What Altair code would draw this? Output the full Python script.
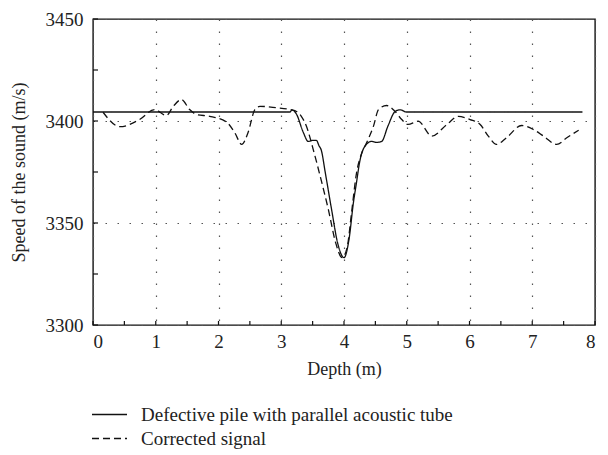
import altair as alt
import pandas as pd

# --- data ---
solid_x = [0.0, 3.14, 3.17, 3.24, 3.35, 3.43, 3.50, 3.56, 3.60, 3.64, 3.70, 3.80, 3.90, 4.00,
           4.08, 4.15, 4.20, 4.25, 4.33, 4.44, 4.52, 4.60, 4.70, 4.81, 4.89, 5.00, 7.80]
solid_y = [3404.4, 3404.4, 3405.4, 3403.5, 3394.5, 3390.0, 3390.5, 3390.5, 3388.0, 3385.5, 3375.0,
           3357.0, 3340.0, 3333.0, 3342.0, 3360.0, 3370.0, 3380.0, 3387.5, 3390.0, 3389.5, 3390.0,
           3397.5, 3404.5, 3405.5, 3404.4, 3404.4]

dash_x = [0.16, 0.43, 0.74, 0.98, 1.17, 1.28, 1.41, 1.54, 1.65, 1.86, 2.13, 2.26, 2.37, 2.47, 2.58,
          2.66, 2.92, 3.14, 3.25, 3.32, 3.40, 3.51, 3.62, 3.75, 3.87, 3.97, 4.05, 4.12, 4.20, 4.28,
          4.36, 4.47, 4.55, 4.68, 4.81, 4.92, 5.02, 5.18, 5.40, 5.64, 5.82, 6.01, 6.17, 6.30, 6.43,
          6.59, 6.83, 7.02, 7.18, 7.39, 7.55, 7.74]
dash_y = [3404.3, 3397.2, 3400.7, 3405.6, 3402.7, 3407.2, 3410.5, 3405.6, 3403.2, 3402.3, 3399.4,
          3394.2, 3388.5, 3394.2, 3405.6, 3407.2, 3406.5, 3405.6, 3404.5, 3402.3, 3397.5, 3386.0,
          3373.0, 3356.7, 3340.0, 3333.0, 3338.0, 3355.0, 3374.6, 3384.0, 3389.3, 3397.5, 3405.6,
          3407.6, 3404.8, 3400.7, 3398.3, 3399.9, 3392.6, 3398.3, 3402.3, 3400.7, 3398.3, 3392.6,
          3388.5, 3391.8, 3397.8, 3395.8, 3392.6, 3388.5, 3391.8, 3395.5]

series_names = ["Defective pile with parallel acoustic tube", "Corrected signal"]

x_major = [0, 1, 2, 3, 4, 5, 6, 7, 8]
x_minor = [0, 0.5, 1, 1.5, 2, 2.5, 3, 3.5, 4, 4.5, 5, 5.5, 6, 6.5, 7, 7.5, 8]
y_major = [3300, 3350, 3400, 3450]
y_minor = [3300, 3325, 3350, 3375, 3400, 3425, 3450]

W, H = 502, 306
FONT = "Liberation Serif"

df = pd.concat([
    pd.DataFrame({"x": solid_x, "y": solid_y, "s": series_names[0], "o": range(len(solid_x))}),
    pd.DataFrame({"x": dash_x, "y": dash_y, "s": series_names[1], "o": range(len(dash_x))}),
])

xscale = alt.Scale(domain=[0, 8], nice=False, zero=False)
yscale = alt.Scale(domain=[3300, 3450], nice=False, zero=False)

lines = alt.Chart(df).mark_line(interpolate="monotone", strokeWidth=1.3, color="#111").encode(
    x=alt.X("x:Q", scale=xscale,
            axis=alt.Axis(values=x_major, title="Depth (m)", grid=True, ticks=False, domain=False,
                          labelPadding=7, titlePadding=9, format="d")),
    y=alt.Y("y:Q", scale=yscale,
            axis=alt.Axis(values=y_major, title="Speed of the sound (m/s)", grid=True, ticks=False,
                          domain=False, labelPadding=10, titlePadding=17, format="d")),
    strokeDash=alt.StrokeDash("s:N",
        scale=alt.Scale(domain=series_names, range=[[1, 0], [7, 4]]),
        legend=alt.Legend(title=None, orient="none", legendX=-2, legendY=386,
                          symbolType="stroke", symbolSize=1225, symbolStrokeColor="#111",
                          symbolStrokeWidth=1.3, labelFont=FONT, labelFontSize=19,
                          labelColor="#222", labelOffset=13, labelLimit=520,
                          clipHeight=19, rowPadding=4)),
    order="o:Q",
)

xt = alt.Chart(pd.DataFrame({"t": x_minor})).mark_rule(color="#111", strokeWidth=1.2).encode(
    x=alt.X("t:Q", scale=xscale), y=alt.value(H), y2=alt.value(H - 4))
yt = alt.Chart(pd.DataFrame({"t": y_minor})).mark_rule(color="#111", strokeWidth=1.2).encode(
    y=alt.Y("t:Q", scale=yscale), x=alt.value(0), x2=alt.value(5))

chart = alt.layer(lines, xt, yt).properties(
    width=W, height=H,
    background="white",
    autosize=alt.AutoSizeParams(type="none"),
    padding={"left": 85, "top": 11, "right": 5, "bottom": 140},
).configure_view(stroke="#111", strokeWidth=1.4).configure_axis(
    labelFont=FONT, labelFontSize=19, labelColor="#222",
    titleFont=FONT, titleFontSize=18, titleFontWeight="normal", titleColor="#222",
    gridColor="#555", gridDash=[1.5, 10.5], gridWidth=1.2,
)

chart.save("out.html", embed_options={"renderer": "svg", "actions": False})
